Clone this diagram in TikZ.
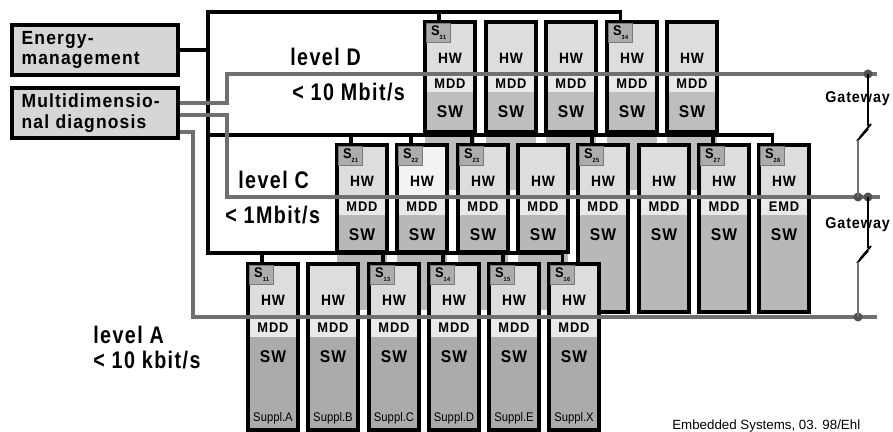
\documentclass[tikz,border=0pt]{standalone}
\usepackage{fontspec}
\setmainfont{Liberation Sans}
\newfontfamily\labf[FakeStretch=0.82,LetterSpace=6]{Liberation Sans}
\newfontfamily\ebf[FakeStretch=0.92,LetterSpace=6]{Liberation Sans}
\newfontfamily\supf[FakeStretch=0.9]{Liberation Sans}
\definecolor{hwc}{HTML}{DDDDDD}
\definecolor{hwl}{HTML}{F3F3F3}
\definecolor{mddc}{HTML}{E9E9E9}
\definecolor{swD}{HTML}{BEBEBE}
\definecolor{swC}{HTML}{B8B8B8}
\definecolor{swA}{HTML}{ABABAB}
\definecolor{sc}{HTML}{ACACAC}
\definecolor{sdraw}{HTML}{7A7A7A}
\definecolor{busg}{HTML}{707070}
\definecolor{eboxc}{HTML}{D6D6D6}
\definecolor{dotc}{HTML}{505050}

% ECU box: name, x-left, y-top, y-bus, y-mdd, y-bottom, hw colour, mdd text, sw colour
\newcommand\ecu[9]{%
  \fill[#7] (#2,#3) rectangle ({#2+50},#4);
  \fill[mddc] (#2,#4) rectangle ({#2+50},#5);
  \fill[#9] (#2,#5) rectangle ({#2+50},#6);
  \node[frame, minimum height={(#6-#3)*0.75pt}, anchor=north west] (#1) at (#2,#3) {};
  \node[hwt] (#1hw) at ({#2+25},{#3+36}) {HW};
  \node[mddt] (#1mdd) at ({#2+25},{(#4+#5)/2+1}) {#8};
  \node[swt] (#1sw) at ({#2+25},{#5+20}) {SW};
}
% S label: name, x-left, y-top, number
\newcommand\smark[4]{%
  \node[slab, anchor=north west] (#1) at ({#2+1.3},{#3+1.3})
    {S\raisebox{-3.2pt}{\fontsize{4.5}{5}\selectfont #4}};
}

\begin{document}
\begin{tikzpicture}[x=0.75pt,y=-0.75pt,
  frame/.style={draw=black, line width=2.6pt, outer sep=0pt, inner sep=0pt, minimum width=37.5pt},
  hwt/.style={inner sep=0pt, font=\ebf\bfseries\fontsize{11.25}{12}\selectfont},
  mddt/.style={inner sep=0pt, font=\ebf\bfseries\fontsize{10.5}{11}\selectfont},
  swt/.style={inner sep=0pt, font=\ebf\bfseries\fontsize{12.75}{13}\selectfont},
  slab/.style={fill=sc, draw=sdraw, line width=0.5pt, minimum width=18pt, minimum height=14pt,
    inner sep=0pt, font=\ebf\bfseries\fontsize{10.5}{11}\selectfont},
  ebox/.style={draw=black, line width=2.4pt, fill=eboxc, minimum width=124.5pt, minimum height=37.5pt,
    text width=110pt, align=left, inner sep=0pt, font=\ebf\bfseries\fontsize{14.25}{15.6}\selectfont},
  lvl/.style={inner sep=0pt, anchor=west, font=\labf\bfseries\fontsize{18}{20}\selectfont},
  blk/.style={draw=black, line width=2.6pt},
  busdrop/.style={draw=black, line width=2.8pt},
  gbus/.style={draw=busg, line width=3pt},
  gwk/.style={draw=black, line width=1.4pt},
  gwg/.style={draw=busg, line width=1pt},
  gdot/.style={circle, fill=dotc, inner sep=0pt, minimum size=6.8pt},
  gwt/.style={inner sep=0pt, anchor=west, font=\ebf\bfseries\fontsize{11.7}{12}\selectfont},
  supt/.style={inner sep=0pt, font=\supf\fontsize{9.4}{10}\selectfont},
  foot/.style={inner sep=0pt, anchor=west, font=\fontsize{10}{11}\selectfont}
]
\useasboundingbox (0,0) rectangle (893,432);

% grey bodies continuing behind the next level
\foreach \x in {425,486,546,607,667} \fill[swD] (\x,132) rectangle (\x+50,190);
\foreach \x in {337,397,458,518} \fill[swC] (\x,252) rectangle (\x+50,310);

% level D
\ecu{d1}{425}{22}{74}{92}{132}{hwc}{MDD}{swD}
\ecu{d2}{486}{22}{74}{92}{132}{hwc}{MDD}{swD}
\ecu{d3}{546}{22}{74}{92}{132}{hwc}{MDD}{swD}
\ecu{d4}{607}{22}{74}{92}{132}{hwc}{MDD}{swD}
\ecu{d5}{667}{22}{74}{92}{132}{hwc}{MDD}{swD}
\smark{s31}{425}{22}{31}
\smark{s34}{607}{22}{34}

% level C
\ecu{c1}{337}{145}{197}{215}{252}{hwc}{MDD}{swC}
\ecu{c2}{397}{145}{197}{215}{252}{hwl}{MDD}{swC}
\ecu{c3}{458}{145}{197}{215}{252}{hwc}{MDD}{swC}
\ecu{c4}{518}{145}{197}{215}{252}{hwc}{MDD}{swC}
\ecu{c5}{578}{145}{197}{215}{312}{hwc}{MDD}{swC}
\ecu{c6}{639}{145}{197}{215}{312}{hwc}{MDD}{swC}
\ecu{c7}{699}{145}{197}{215}{312}{hwc}{MDD}{swC}
\ecu{c8}{759}{145}{197}{215}{312}{hwc}{EMD}{swC}
\smark{s21}{337}{145}{21}
\smark{s22}{397}{145}{22}
\smark{s23}{458}{145}{23}
\smark{s25}{578}{145}{25}
\smark{s27}{699}{145}{27}
\smark{s28}{759}{145}{28}

% level A
\ecu{a1}{248}{264}{317}{337}{430}{hwc}{MDD}{swA}
\ecu{a2}{308}{264}{317}{337}{430}{hwc}{MDD}{swA}
\ecu{a3}{369}{264}{317}{337}{430}{hwc}{MDD}{swA}
\ecu{a4}{429}{264}{317}{337}{430}{hwc}{MDD}{swA}
\ecu{a5}{489}{264}{317}{337}{430}{hwc}{MDD}{swA}
\ecu{a6}{549}{264}{317}{337}{430}{hwc}{MDD}{swA}
\smark{s11}{248}{264}{11}
\smark{s13}{369}{264}{13}
\smark{s14}{429}{264}{14}
\smark{s15}{489}{264}{15}
\smark{s16}{549}{264}{16}
\node[supt] (supA) at (273,418) {Suppl.A};
\node[supt] (supB) at (333,418) {Suppl.B};
\node[supt] (supC) at (394,418) {Suppl.C};
\node[supt] (supD) at (454,418) {Suppl.D};
\node[supt] (supE) at (514,418) {Suppl.E};
\node[supt] (supX) at (574,418) {Suppl.X};

% management boxes
\node[ebox] (energy) at (95,50) {Energy-\\management};
\node[ebox] (multi) at (95,113) {Multidimensio-\\nal diagnosis};

% black buses
\coordinate (jD) at (208,12);
\coordinate (jC) at (208,135);
\coordinate (jA) at (208,253);
\draw[blk] (energy.east) -- (energy.east -| jD);
\draw[blk] (s34.north) |- (jD) -- (jA) -| (s16.north);
\draw[blk] (jC) -| (s28.north);
\draw[busdrop] (s31.north) -- (s31.north |- jD);
\foreach \s in {s21,s22,s23,s25,s27} \draw[busdrop] (\s.north) -- (\s.north |- jC);
\foreach \s in {s11,s13,s14,s15} \draw[busdrop] (\s.north) -- (\s.north |- jA);

% grey diagnosis buses
\coordinate (gD1) at (227,103); \coordinate (gD2) at (227,74); \coordinate (gDe) at (877,74);
\coordinate (gC1) at (227,115); \coordinate (gC2) at (227,197); \coordinate (gCe) at (880,197);
\coordinate (gA1) at (193,132); \coordinate (gA2) at (193,317); \coordinate (gAe) at (877,317);
\draw[gbus] (multi.east |- gD1) -- (gD1) -- (gD2) -- (gDe);
\draw[gbus] (multi.east |- gC1) -- (gC1) -- (gC2) -- (gCe);
\draw[gbus] (multi.east |- gA1) -- (gA1) -- (gA2) -- (gAe);

% gateways
\node[gwt] (gw1) at (825,99) {Gateway};
\node[gwt] (gw2) at (825,225) {Gateway};
\node[gdot] (dD) at (868,74) {};
\node[gdot] (dC1) at (858,197) {};
\node[gdot] (dC2) at (868,197) {};
\node[gdot] (dA) at (858,317) {};
\coordinate (u1) at (868,126); \coordinate (u2) at (858,140);
\coordinate (v1) at (868,248); \coordinate (v2) at (858,262);
\draw[gwk] (dD.center) -- (u1);
\draw[gwk] (871,124) -- (860,137);
\draw[gwk] (868,129) -- (857,141);
\draw[gwg] (u2) -- (dC1.center);
\draw[gwk] (dC2.center) -- (v1);
\draw[gwk] (871,246) -- (860,259);
\draw[gwk] (868,251) -- (857,263);
\draw[gwg] (v2) -- (dA.center);

% level labels
\node[lvl] (lD) at (290,57) {level D};
\node[lvl] (lDr) at (292,92) {< 10 Mbit/s};
\node[lvl] (lC) at (238,180) {level C};
\node[lvl] (lCr) at (225,215) {< 1Mbit/s};
\node[lvl] (lA) at (93,335) {level A};
\node[lvl] (lAr) at (93,360) {< 10 kbit/s};

\node[foot] (ft) at (672,426) {Embedded Systems, 03. 98/Ehl};
\end{tikzpicture}
\end{document}
